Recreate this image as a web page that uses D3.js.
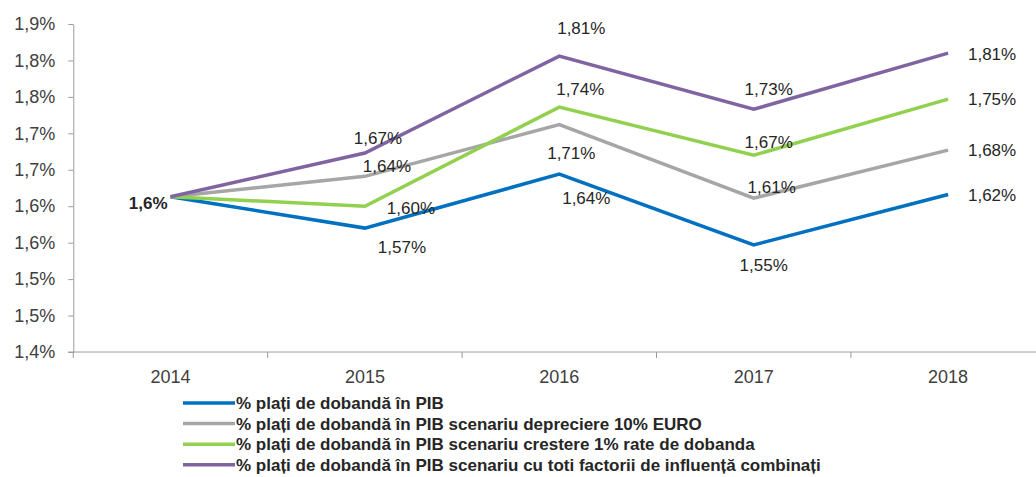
<!DOCTYPE html>
<html>
<head>
<meta charset="utf-8">
<script src="https://cdn.jsdelivr.net/npm/d3@7"></script>
<style>
  body { margin: 0; background: #fff; }
</style>
</head>
<body>
<div id="chart"></div>
<script>
// Data
const years = ["2014", "2015", "2016", "2017", "2018"];
const seriesNames = [
  "% plați de dobandă în PIB",
  "% plați de dobandă în PIB scenariu depreciere 10% EURO",
  "% plați de dobandă în PIB scenariu crestere 1% rate de dobanda",
  "% plați de dobandă în PIB scenariu cu toti factorii de influență combinați"
];
const baseValues      = [1.613, 1.570, 1.644, 1.547, 1.616];
const euroValues      = [1.613, 1.641, 1.712, 1.611, 1.677];
const rateValues      = [1.613, 1.600, 1.736, 1.670, 1.747];
const combinedValues  = [1.613, 1.673, 1.806, 1.733, 1.810];
const yTicks      = [1.40, 1.45, 1.50, 1.55, 1.60, 1.65, 1.70, 1.75, 1.80, 1.85];
const yTickLabels = ["1,4%", "1,5%", "1,5%", "1,6%", "1,6%", "1,7%", "1,7%", "1,8%", "1,8%", "1,9%"];

const colors = ["#0070c0", "#a6a6a6", "#92d050", "#8064a2"];
// label offsets (dx, dy) from each point, 2015..2018
const labelOffsets = [
  [[37, 19], [27, 24], [10, 20], [44, 0]],
  [[22, -10], [12, 28], [18, -11], [44, 0]],
  [[46, 2], [21, -18], [15, -13], [44, 0]],
  [[13, -15], [22, -28], [15, -20], [44, 1]]
];

const series = [baseValues, euroValues, rateValues, combinedValues].map((v, i) => ({
  name: seriesNames[i], values: v, color: colors[i], offsets: labelOffsets[i]
}));

const width = 1036, height = 477;
const plotLeft = 73.3, plotBottom = 352, plotTop = 24;

const svg = d3.select("#chart")
  .append("svg")
    .attr("width", width)
    .attr("height", height)
    .style("font-family", "'Liberation Sans', Arial, sans-serif");

svg.append("rect").attr("width", width).attr("height", height).attr("fill", "#fff");

// Scales
const x = d3.scaleBand()
  .domain(years)
  .range([plotLeft, plotLeft + 5 * 194.4])
  .padding(0);
const cx = d => x(d) + x.bandwidth() / 2;

const y = d3.scaleLinear()
  .domain([1.40, 1.85])
  .range([plotBottom, plotTop]);

// Y axis
const yAxis = svg.append("g")
  .attr("transform", `translate(${plotLeft},0)`)
  .call(d3.axisLeft(y)
    .tickValues(yTicks)
    .tickFormat((d, i) => yTickLabels[i])
    .tickSize(5)
    .tickPadding(13)
    .tickSizeOuter(0));
yAxis.selectAll("path, line").attr("stroke", "#9c9c9c");
yAxis.selectAll("text")
  .attr("fill", "#404040")
  .style("font-size", "18px")
  .style("font-family", "'Liberation Sans', Arial, sans-serif");

// X axis line with ticks between categories
svg.append("line")
  .attr("x1", plotLeft - 5).attr("x2", width)
  .attr("y1", plotBottom).attr("y2", plotBottom)
  .attr("stroke", "#9c9c9c");
svg.selectAll(".xtick")
  .data(years)
  .enter().append("line")
    .attr("class", "xtick")
    .attr("x1", d => x(d)).attr("x2", d => x(d))
    .attr("y1", plotBottom).attr("y2", plotBottom + 6)
    .attr("stroke", "#9c9c9c");
svg.selectAll(".xlabel")
  .data(years)
  .enter().append("text")
    .attr("class", "xlabel")
    .attr("x", d => cx(d))
    .attr("y", 377)
    .attr("dy", "0.35em")
    .attr("text-anchor", "middle")
    .attr("fill", "#404040")
    .style("font-size", "18px")
    .text(d => d);

// Lines
const line = d3.line()
  .x((d, i) => cx(years[i]))
  .y(d => y(d));

svg.selectAll(".series")
  .data(series)
  .enter().append("path")
    .attr("class", "series")
    .attr("fill", "none")
    .attr("stroke", d => d.color)
    .attr("stroke-width", 3.5)
    .attr("stroke-linejoin", "miter")
    .attr("d", d => line(d.values));

// Data labels
const fmt = v => v.toFixed(2).replace(".", ",") + "%";
series.forEach(s => {
  svg.selectAll(null)
    .data(s.values.slice(1))
    .enter().append("text")
      .attr("x", (d, i) => cx(years[i + 1]) + s.offsets[i][0])
      .attr("y", (d, i) => y(d) + s.offsets[i][1])
      .attr("dy", "0.35em")
      .attr("text-anchor", "middle")
      .attr("fill", "#262626")
      .style("font-size", "17px")
      .text(d => fmt(d));
});

// First point label (shared by all series)
svg.append("text")
  .attr("x", cx(years[0]) - 3)
  .attr("y", y(baseValues[0]) + 6)
  .attr("dy", "0.35em")
  .attr("text-anchor", "end")
  .attr("fill", "#262626")
  .style("font-size", "17px")
  .style("font-weight", "bold")
  .text(baseValues[0].toFixed(1).replace(".", ",") + "%");

// Legend
const legend = svg.append("g").attr("transform", "translate(183,403)");
const items = legend.selectAll("g")
  .data(series)
  .enter().append("g")
    .attr("transform", (d, i) => `translate(0,${i * 20.6})`);
items.append("line")
  .attr("x1", 0).attr("x2", 52)
  .attr("y1", 0).attr("y2", 0)
  .attr("stroke", d => d.color)
  .attr("stroke-width", 3.5);
items.append("text")
  .attr("x", 53)
  .attr("y", 0)
  .attr("dy", "0.35em")
  .attr("fill", "#262626")
  .style("font-family", "'Liberation Sans Narrow', 'Arial Narrow', sans-serif")
  .style("font-weight", "bold")
  .style("font-size", "17px")
  .text(d => d.name);
</script>
</body>
</html>
